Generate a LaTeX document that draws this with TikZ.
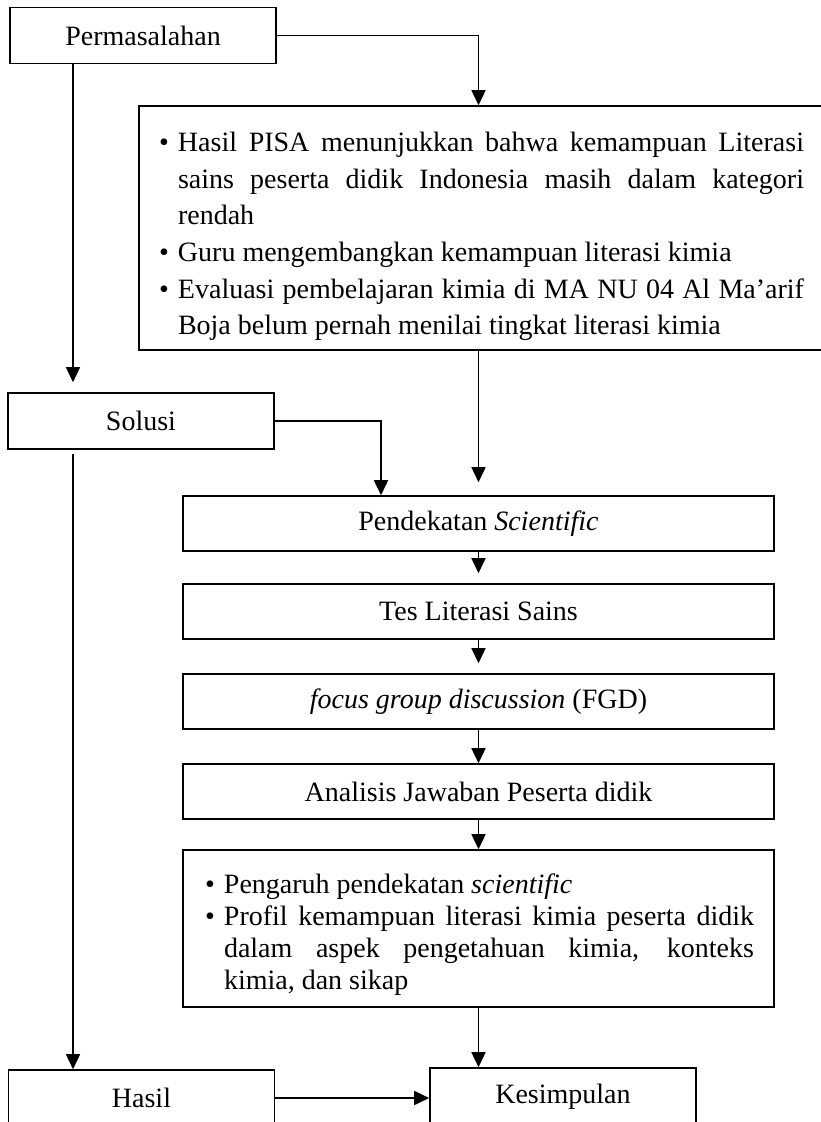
\documentclass[tikz,border=0pt]{standalone}
\usepackage{fontspec}
\setmainfont{Liberation Serif}
\usepackage{tikz}
\usetikzlibrary{arrows.meta}
\newcommand{\butir}{\par\noindent\llap{\textbullet\hspace{9pt}}}

\begin{document}
\begin{tikzpicture}[x=1pt, y=-1pt, line width=1.6pt,
  >={Triangle[length=15pt,width=14pt]},
  kotak/.style={draw, rectangle, inner sep=0pt, font=\fontsize{28}{34}\selectfont},
  kecil/.style={kotak, minimum width=266pt, minimum height=56pt},
  tahap/.style={kotak, minimum width=591pt, minimum height=55pt}]
  \useasboundingbox (0,0) rectangle (821,1122);

  \node[kecil] (perm) at (143,35.5) {Permasalahan};
  \node[kotak, text width=704pt, minimum height=244pt, align=justify] (masalah) at (491,228)
  {\leftskip=39pt \rightskip=39pt \baselineskip=36.6pt \hyphenpenalty=10000
   \butir Hasil PISA menunjukkan bahwa kemampuan Literasi\linebreak{} sains peserta didik Indonesia masih dalam kategori\linebreak{} rendah
   \butir Guru mengembangkan kemampuan literasi kimia
   \butir Evaluasi pembelajaran kimia di MA NU 04 Al Ma’arif\linebreak{} Boja belum pernah menilai tingkat literasi kimia\par};
  \node[kecil] (solusi) at (141,421) {Solusi};
  \node[tahap] (pend) at (478.5,523.5) {Pendekatan \textit{Scientific}};
  \node[tahap] (tes) at (478.5,611.5) {Tes Literasi Sains};
  \node[tahap] (fgd) at (478.5,701.5) {\textit{focus group discussion} (FGD)};
  \node[tahap] (analisis) at (478.5,791.5) {Analisis Jawaban Peserta didik};
  \node[kotak, text width=591pt, minimum height=157pt, align=justify] (hasilp) at (478.5,928.5)
  {\leftskip=41pt \rightskip=20pt \baselineskip=32pt \hyphenpenalty=10000
   \butir Pengaruh pendekatan \textit{scientific}
   \butir Profil kemampuan literasi kimia peserta didik\linebreak{} dalam aspek pengetahuan kimia, konteks\linebreak{} kimia, dan sikap\par};
  \node[kecil] (hasil) at (141.5,1098) {Hasil};
  \node[kecil, minimum height=58pt] (simpul) at (563,1097) {Kesimpulan};

  \coordinate (kiri) at (73,0);
  \coordinate (belok) at (381,0);

  \draw[->] (perm.east) -| (masalah.north -| pend.north);
  \draw[->, shorten >=10pt] (perm.south -| kiri) -- (solusi.north -| kiri);
  \draw[->, shorten <=4pt] (solusi.south -| kiri) -- (hasil.north -| kiri);
  \draw[->, shorten >=13pt] (masalah.south -| pend.north) -- (pend.north);
  \draw[->] (solusi.east) -| (pend.north -| belok);
  \path[->]
  (pend) edge[shorten >=10pt] (tes)
  (tes) edge[shorten >=10pt] (fgd)
  (fgd) edge (analisis)
  (analisis) edge (hasilp)
  (hasilp.south) edge (hasilp.south |- simpul.north)
  (hasil.east) edge (hasil.east -| simpul.west)
  ;
\end{tikzpicture}
\end{document}
